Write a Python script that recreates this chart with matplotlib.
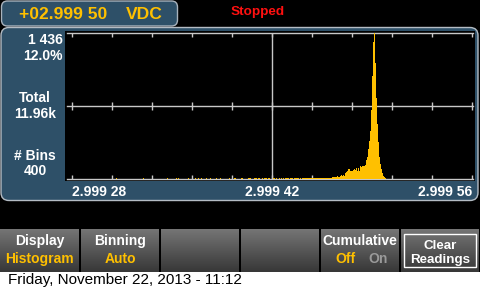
import numpy as np
import matplotlib
matplotlib.use('Agg')
import matplotlib.pyplot as plt
from matplotlib.patches import FancyBboxPatch, Rectangle

plt.rcParams['font.family'] = ['Liberation Sans', 'DejaVu Sans']

# readout
reading = '+02.999 50'
unit = 'VDC'
status = 'Stopped'
peak_count = '1 436'
peak_pct = '12.0%'
total = '11.96k'
n_bins = '400'
date_line = 'Friday, November 22, 2013 - 11:12'

# histogram: 400 bins between the first and last label
bin_lo = 2.99928
bin_hi = 2.99956
bin_count = 400
x_tick_vals = [2.99928, 2.99942, 2.99956]
x_tick_labels = ['2.999 28', '2.999 42', '2.999 56']
y_max = 1436

# sparse bins in the left tail (bin number, count)
sparse_bins = [44, 71, 95, 104, 106, 116, 123, 126, 129, 134, 138, 144, 148, 157,
               162, 163, 169, 170, 176, 177, 178, 182, 183, 184, 186, 187, 190, 192,
               193, 194, 196, 197, 201, 202, 204, 207, 209, 211, 213, 214, 215, 216,
               218, 219, 220, 222, 223, 224, 225, 226, 228]
sparse_counts = [6, 6, 6, 6, 6, 6, 6, 6, 6, 6, 6, 6, 6, 6,
                 6, 6, 6, 6, 6, 6, 6, 6, 6, 6, 6, 6, 6, 6,
                 6, 6, 6, 6, 6, 6, 6, 6, 6, 6, 6, 6, 6, 6,
                 6, 6, 6, 6, 6, 6, 6, 6, 6]

# contiguous bins from bin 230 onward
main_start = 230
main_counts = [8, 5, 8, 8, 5, 8, 8, 8, 10, 8, 8, 8, 10, 8, 8, 10, 8, 10, 10, 8,
               10, 10, 10, 10, 10, 12, 10, 12,
               10, 10, 20, 15, 20, 20, 20, 30, 20, 20,
               30, 40, 30, 40, 30, 60, 70, 80, 100, 100,
               80, 80, 80, 90, 100, 90, 110, 80, 110, 80,
               130, 120, 130, 130, 130, 140, 187, 216, 295, 374,
               472, 679, 1013, 1348, 1436, 1141, 797, 541, 364, 216,
               148, 98, 59, 30, 20, 10]

softkeys = [('Display', 'Histogram'), ('Binning', 'Auto'), ('', ''), ('', ''),
            ('Cumulative', None), ('Clear', 'Readings')]

YELLOW = '#ffc000'
PANEL = '#2e5068'
LINE = '#c8c8c8'

W, H = 480, 289
fig = plt.figure(figsize=(W / 100, H / 100), dpi=100, facecolor='black')

# background layer in pixel coordinates
bg = fig.add_axes([0, 0, 1, 1])
bg.set_xlim(0, W)
bg.set_ylim(H, 0)
bg.axis('off')
bg.set_facecolor('black')

bg.add_patch(Rectangle((0, 272), W, 17, fc='white', ec='none'))
bg.add_patch(FancyBboxPatch((1, 27.5), 477, 173, boxstyle='round,pad=0,rounding_size=8',
                            fc=PANEL, ec='#b4bcc4', lw=1))
bg.add_patch(FancyBboxPatch((1.5, 1), 176, 25, boxstyle='round,pad=0,rounding_size=6',
                            fc=PANEL, ec='#a8b2bc', lw=1))

bg.text(19, 19, reading, color=YELLOW, fontsize=12.6, fontweight='bold', va='baseline')
bg.text(126, 19, unit, color=YELLOW, fontsize=12.6, fontweight='bold', va='baseline')
bg.text(231, 15, status, color='#ff1010', fontsize=9.7, fontweight='bold', va='baseline')

side = dict(color='white', fontsize=10, fontweight='bold', va='baseline')
bg.text(63, 44, peak_count, ha='right', **side)
bg.text(63, 60, peak_pct, ha='right', **side)
bg.text(35, 102, 'Total', ha='center', **side)
bg.text(35, 118, total, ha='center', **side)
bg.text(35, 160, '# Bins', ha='center', **side)
bg.text(35, 175, n_bins, ha='center', **side)

# softkey bar
grad = np.linspace(0.46, 0.22, 43)[:, None] * np.ones((1, 2))
for i, (top, bottom) in enumerate(softkeys):
    x0 = i * 80 + (1 if i else 0)
    x1 = i * 80 + 79
    bg.imshow(grad, cmap='gray', vmin=0, vmax=1, extent=(x0, x1, 272, 229),
              origin='upper', aspect='auto', interpolation='bilinear')
    cx = (x0 + x1) / 2
    key = dict(fontsize=10, fontweight='bold', va='baseline', ha='center')
    if top == 'Clear':
        bg.add_patch(Rectangle((404, 234), 72, 33, fc='none', ec='white', lw=1))
        bg.text(440, 249, top, color='white', fontsize=9.6, fontweight='bold',
                va='baseline', ha='center')
        bg.text(440, 262.5, bottom, color='white', fontsize=9.6, fontweight='bold',
                va='baseline', ha='center')
    elif top == 'Cumulative':
        bg.text(360, 245, top, color='white', **key)
        bg.text(345, 263, 'Off', color=YELLOW, **key)
        bg.text(378, 263, 'On', color='#9a9a9a', **key)
    elif top:
        bg.text(cx, 245, top, color='white', **key)
        bg.text(cx, 263, bottom, color=YELLOW, **key)

bg.text(8, 284, date_line, color='black', fontsize=11, va='baseline',
        family=['Liberation Sans Narrow', 'Liberation Sans', 'DejaVu Sans'])

# histogram axes: black area from x 65..475, y 31..181 px
ax = fig.add_axes([65 / W, (H - 181) / H, 410 / W, 150 / H])
ax.set_facecolor('black')
bw = (bin_hi - bin_lo) / bin_count
cpp = y_max / 146.0  # counts per pixel
ax.set_xlim(bin_lo - 7 * bw, bin_lo + 403 * bw)
ax.set_ylim(-2 * cpp, y_max + 2 * cpp)
for s in ax.spines.values():
    s.set_visible(False)

bins = sparse_bins + list(range(main_start, main_start + len(main_counts)))
counts = sparse_counts + main_counts
lefts = [bin_lo + b * bw for b in bins]
ax.bar(lefts, counts, width=bw, align='edge', color=YELLOW, lw=0, zorder=3)

# frame lines and ticks
xa0, xa1 = 2 / 410, 408 / 410
for yv in [0, y_max / 2, y_max]:
    ax.axhline(yv, xa0, xa1, color=LINE, lw=1, zorder=2)
ax.vlines(x_tick_vals[1], 0, y_max, color=LINE, lw=1, zorder=2)
ticks = [bin_lo + k * 40 * bw for k in range(11)]
tl = 4 * cpp
ax.vlines(ticks, y_max - tl, y_max, color=LINE, lw=1, zorder=2)
ax.vlines(ticks, y_max / 2 - tl, y_max / 2 + tl, color=LINE, lw=1, zorder=2)
ax.vlines(ticks, 0, tl, color=LINE, lw=1, zorder=2)

ax.set_yticks([])
ax.set_xticks(x_tick_vals, x_tick_labels)
ax.tick_params(axis='x', length=0, pad=3, labelcolor='white', labelsize=10)
for lab in ax.get_xticklabels():
    lab.set_fontweight('bold')
labs = ax.get_xticklabels()
labs[0].set_ha('left')
labs[-1].set_ha('right')

fig.savefig('out.png', dpi=100, facecolor='black')
